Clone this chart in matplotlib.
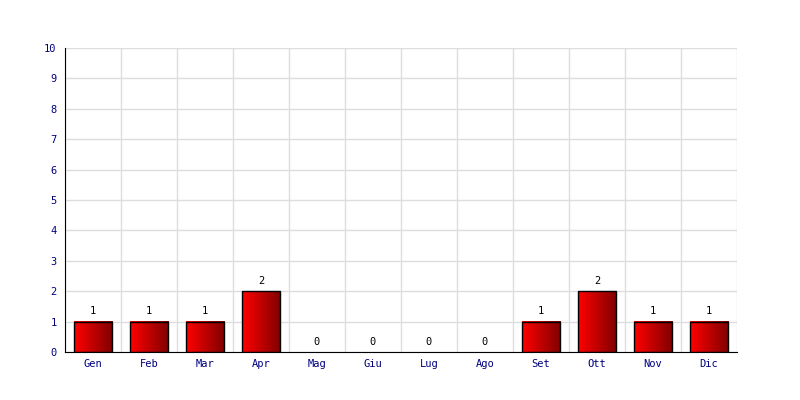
import numpy as np
import matplotlib
matplotlib.use("Agg")
import matplotlib.pyplot as plt
from matplotlib.colors import LinearSegmentedColormap

months = ["Gen", "Feb", "Mar", "Apr", "Mag", "Giu", "Lug", "Ago", "Set", "Ott", "Nov", "Dic"]
counts = [1, 1, 1, 2, 0, 0, 0, 0, 1, 2, 1, 1]
y_ticks = list(range(0, 11))

fig = plt.figure(figsize=(8, 4), dpi=100)
ax = fig.add_axes([65 / 800, 48 / 400, 672 / 800, 304 / 400])

x = np.arange(len(months))
ax.set_xlim(-0.5, len(months) - 0.5)
ax.set_ylim(0, 10)

# grid
ax.set_xticks(np.arange(-0.5, len(months)), minor=True)
ax.grid(True, which="minor", axis="x", color="#dddddd", lw=1)
ax.set_yticks(y_ticks)
ax.grid(True, which="major", axis="y", color="#dddddd", lw=1)
ax.set_axisbelow(True)

cmap = LinearSegmentedColormap.from_list("redgrad", ["#ff0000", "#800000"])
grad = np.linspace(0, 1, 64).reshape(1, -1)
w = 0.68
for xi, v in zip(x, counts):
    if v > 0:
        ax.imshow(grad, cmap=cmap, aspect="auto", extent=(xi - w / 2, xi + w / 2, 0, v), zorder=2)
        ax.bar(xi, v, width=w, facecolor="none", edgecolor="black", lw=1, zorder=3)
    ax.text(xi, v + 0.18, str(v), ha="center", va="bottom", fontsize=7.5,
            family="DejaVu Sans Mono", color="black")

ax.set_xlim(-0.5, len(months) - 0.5)
ax.set_ylim(0, 10)
ax.set_xticks(x)
ax.set_xticklabels(months)
ax.tick_params(which="both", length=0)
ax.tick_params(axis="x", pad=5)
ax.tick_params(axis="y", pad=6)
for lab in ax.get_xticklabels() + ax.get_yticklabels():
    lab.set_family("DejaVu Sans Mono")
    lab.set_fontsize(7.5)
    lab.set_color("#000080")

for s in ["top", "right"]:
    ax.spines[s].set_visible(False)
ax.spines["left"].set_color("black")
ax.spines["bottom"].set_color("black")

fig.savefig("out.png", dpi=100)
